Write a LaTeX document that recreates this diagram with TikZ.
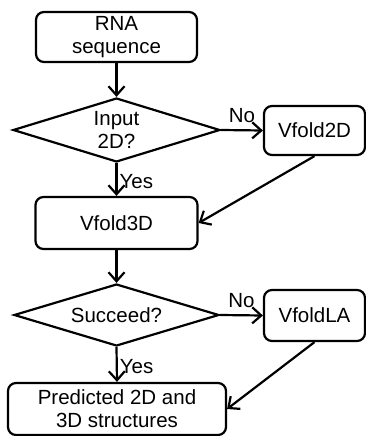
\documentclass[tikz,border=0pt]{standalone}
\usepackage{fontspec}
\setmainfont{Liberation Sans}
\usetikzlibrary{shapes.geometric,arrows.meta}
\begin{document}
\begin{tikzpicture}[x=1pt,y=-1pt,
  every node/.style={font=\fontsize{20.5}{23}\selectfont, align=center},
  boxnode/.style={draw, line width=2.2pt, rounded corners=8pt, inner sep=0pt},
  decnode/.style={draw, line width=2.2pt, diamond, aspect=3.4, inner sep=0pt},
  flow/.style={line width=2.2pt, -{Straight Barb[length=9pt,width=16pt,line width=2.2pt]}},
  lbl/.style={font=\fontsize{20.5}{23}\selectfont, inner sep=1pt}
  ]
\useasboundingbox (0,0) rectangle (366,436);
\node[boxnode, minimum width=161pt, minimum height=50pt] (rna) at (116.5,37) {RNA\\sequence};
\node[decnode, minimum width=207pt, minimum height=64pt] (d1) at (116.5,130) {Input\\2D?};
\node[boxnode, minimum width=101pt, minimum height=49pt] (v2d) at (314.5,130.5) {Vfold2D};
\node[boxnode, minimum width=162pt, minimum height=52pt] (v3d) at (116.5,223) {Vfold3D};
\node[decnode, minimum width=205pt, minimum height=62pt] (d2) at (116.5,315) {Succeed?};
\node[boxnode, minimum width=101pt, minimum height=51pt] (vla) at (314.5,315.5) {VfoldLA};
\node[boxnode, minimum width=218pt, minimum height=52pt] (out) at (117,409) {Predicted 2D and\\3D structures};

\draw[flow] (rna.south) -- (d1.north);
\draw[flow] (d1.east) -- node[lbl, above=5pt, pos=0.5] (no1) {No} (v2d.west);
\draw[flow] (d1.south) -- node[lbl, right=1pt, pos=0.55] (yes1) {Yes} (v3d.north);
\draw[flow] (v2d.south) -- (v3d.east);
\draw[flow] (v3d.south) -- (d2.north);
\draw[flow] (d2.east) -- node[lbl, above=5pt, pos=0.5] (no2) {No} (vla.west);
\draw[flow] (d2.south) -- node[lbl, right=1pt, pos=0.55] (yes2) {Yes} (out.north);
\draw[flow] (vla.south) -- (out.east);
\end{tikzpicture}
\end{document}
